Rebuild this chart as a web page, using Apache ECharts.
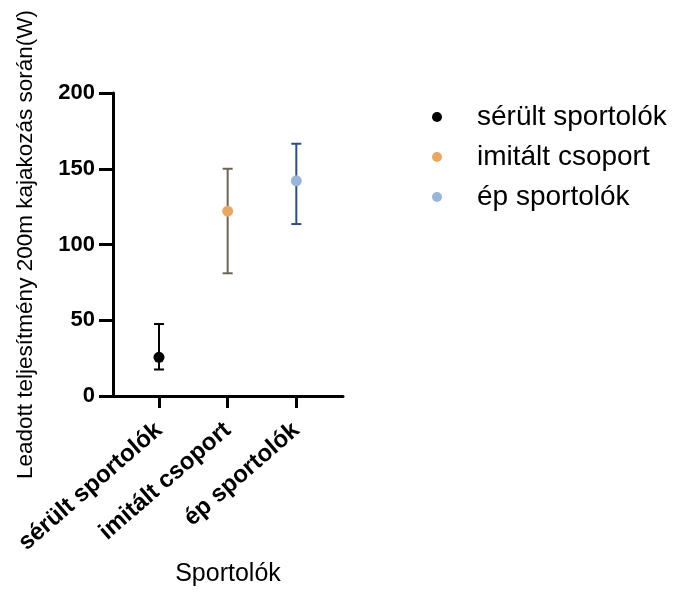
<!DOCTYPE html>
<html>
<head>
<meta charset="utf-8">
<script src="https://cdn.jsdelivr.net/npm/echarts@6/dist/echarts.min.js"></script>
<style>
  html, body { margin: 0; padding: 0; background: #fff; }
  #chart { width: 673px; height: 592px; }
</style>
</head>
<body>
<div id="chart"></div>
<script>
// data
const categories = ['sérült sportolók', 'imitált csoport', 'ép sportolók']
const means = [25.5, 122, 142]
const lower = [17.5, 81, 113.5]
const upper = [47.5, 150, 166.5]
const yTicks = [0, 50, 100, 150, 200]

const pointColors = ['#000000', '#E9A862', '#9BB5D9']
const barColors = ['#000000', '#6E6456', '#2F4E7E']
const font = '"Liberation Sans", Arial, sans-serif'

const chart = echarts.init(document.getElementById('chart'))

const scatterSeries = categories.map((name, i) => ({
  name: name,
  type: 'scatter',
  z: 3,
  symbol: 'circle',
  symbolSize: 11,
  itemStyle: { color: pointColors[i], opacity: 1 },
  data: [[i, means[i]]],
}))

const errorSeries = {
  type: 'custom',
  name: 'error',
  z: 2,
  encode: { x: 0, y: [1, 2] },
  data: categories.map((c, i) => [i, lower[i], upper[i]]),
  renderItem: (params, api) => {
    const x = api.value(0)
    const lo = api.coord([x, api.value(1)])
    const hi = api.coord([x, api.value(2)])
    const cap = 5
    const style = { stroke: barColors[params.dataIndex], lineWidth: 2 }
    return {
      type: 'group',
      children: [
        { type: 'line', shape: { x1: lo[0], y1: lo[1], x2: hi[0], y2: hi[1] }, style },
        { type: 'line', shape: { x1: hi[0] - cap, y1: hi[1], x2: hi[0] + cap, y2: hi[1] }, style },
        { type: 'line', shape: { x1: lo[0] - cap, y1: lo[1], x2: lo[0] + cap, y2: lo[1] }, style },
      ],
    }
  },
}

const option = {
  animation: false,
  backgroundColor: '#fff',
  grid: {
    left: 113,
    top: 93,
    right: 330,
    bottom: 196,
    containLabel: false,
    outerBoundsMode: 'none',
  },
  legend: {
    orient: 'vertical',
    left: 432,
    top: 103,
    padding: 0,
    data: categories,
    icon: 'circle',
    itemWidth: 70,
    itemHeight: 10,
    itemGap: 12,
    textStyle: {
      fontSize: 28,
      lineHeight: 28,
      color: '#000',
      fontFamily: font,
    },
  },
  xAxis: {
    type: 'value',
    min: -0.67,
    max: 2.68,
    name: 'Sportolók',
    nameLocation: 'middle',
    nameGap: 165,
    nameTextStyle: { fontSize: 25, color: '#000', fontFamily: font },
    splitLine: { show: false },
    axisLine: { show: true, onZero: false, lineStyle: { color: '#000', width: 3 } },
    axisTick: {
      show: true,
      customValues: [0, 1, 2],
      length: 12,
      lineStyle: { color: '#000', width: 3 },
    },
    axisLabel: {
      customValues: [0, 1, 2],
      rotate: 41,
      margin: 31,
      fontSize: 24,
      fontWeight: 'bold',
      color: '#000',
      fontFamily: font,
      formatter: (v) => categories[Math.round(v)],
    },
  },
  yAxis: {
    type: 'value',
    min: yTicks[0],
    max: yTicks[yTicks.length - 1],
    interval: 50,
    name: 'Leadott teljesítmény 200m kajakozás során(W)',
    nameLocation: 'middle',
    nameGap: 76,
    nameTextStyle: { fontSize: 22.5, color: '#000', fontFamily: font },
    splitLine: { show: false },
    axisLine: { show: true, onZero: false, lineStyle: { color: '#000', width: 3 } },
    axisTick: { show: true, length: 14, lineStyle: { color: '#000', width: 3 } },
    axisLabel: {
      margin: 18,
      fontSize: 22,
      fontWeight: 'bold',
      color: '#000',
      fontFamily: font,
    },
  },
  series: [errorSeries, ...scatterSeries],
}

chart.setOption(option)
</script>
</body>
</html>
